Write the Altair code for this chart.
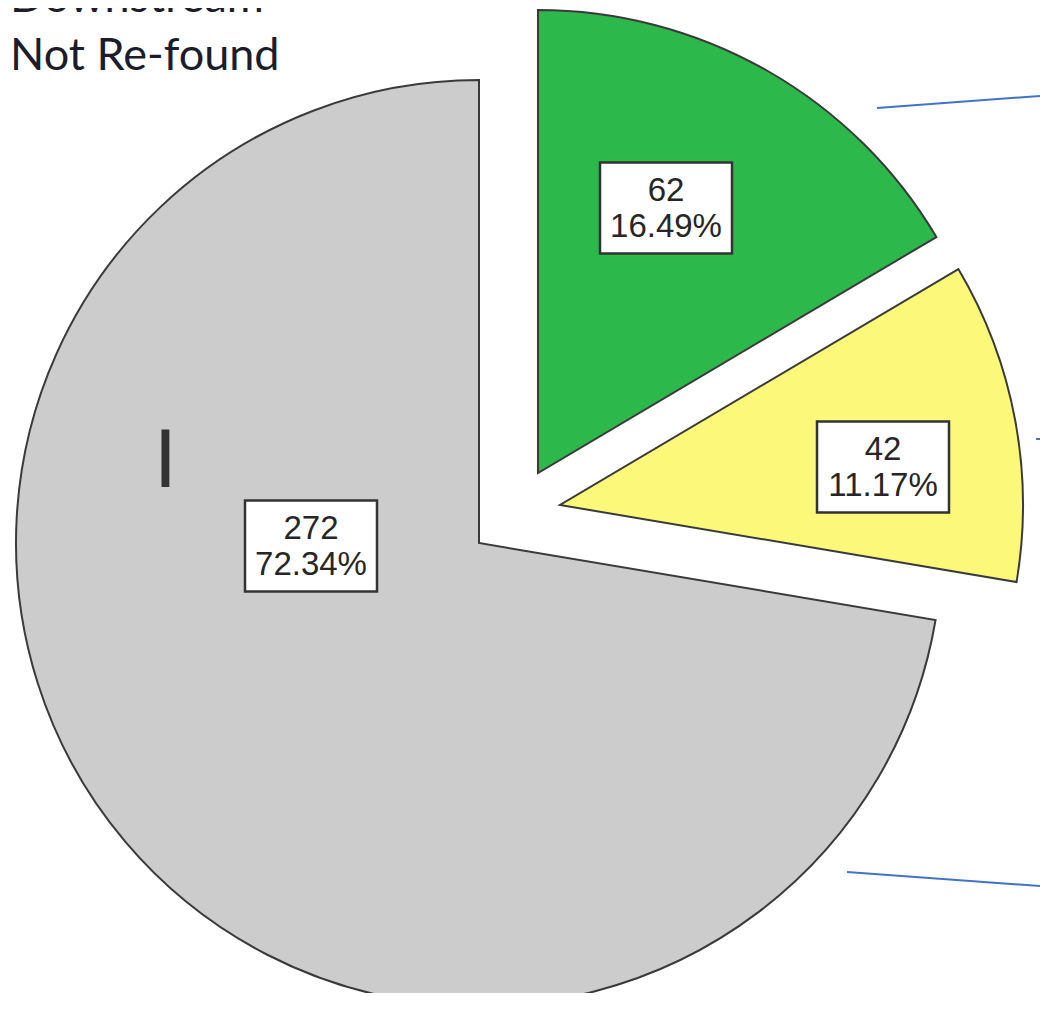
import altair as alt
import pandas as pd

# ---- data ----
categories = ["Upstream", "Downstream", "Not Re-found"]
counts = [62, 42, 272]
colors = ["#2DB84B", "#FBF87A", "#CCCCCC"]

df = pd.DataFrame({"category": categories, "count": counts, "order": list(range(len(categories)))})

# ---- layout (plot-area pixels) ----
R = 463
centers = [(530, 465), (552, 497), (471, 535)]          # exploded slice centres
label_offsets = [(128, -265), (323, -38), (-168, 3)]     # label box centre relative to slice centre
leaders = [((869, 100), (1032, 88)), ((1028, 431), (1032, 431)), ((839, 864), (1032, 878))]
BOX_W, BOX_H = 132, 91
LINE_H = 36

base = (
    alt.Chart(df)
    .transform_joinaggregate(total="sum(count)")
    .transform_window(cum="sum(count)", sort=[alt.SortField("order")], frame=[None, 0])
    .transform_calculate(
        start="(datum.cum - datum.count) / datum.total * 2 * PI",
        end="datum.cum / datum.total * 2 * PI",
        label="datum.count + '\\n' + format(datum.count / datum.total * 100, '.2f') + '%'",
    )
)

color_scale = alt.Scale(domain=categories, range=colors)

layers = []
for i, (cx, cy) in enumerate(centers):
    sl = base.transform_filter(f"datum.order == {i}")
    layers.append(
        sl.mark_arc(radius=R, stroke="#3a3a3a", strokeWidth=2).encode(
            theta=alt.Theta("start:Q", scale=None),
            theta2="end:Q",
            x=alt.value(cx),
            y=alt.value(cy),
            color=alt.Color("category:N", scale=color_scale, legend=None),
        )
    )

for i, (cx, cy) in enumerate(centers):
    sl = base.transform_filter(f"datum.order == {i}")
    lx, ly = cx + label_offsets[i][0], cy + label_offsets[i][1]
    layers.append(
        sl.mark_rect(fill="white", stroke="#333333", strokeWidth=2.5).encode(
            x=alt.value(lx - BOX_W / 2),
            x2=alt.value(lx + BOX_W / 2),
            y=alt.value(ly - BOX_H / 2),
            y2=alt.value(ly + BOX_H / 2),
        )
    )
    layers.append(
        sl.mark_text(
            font="Liberation Sans", fontSize=33, lineBreak="\n", lineHeight=LINE_H,
            baseline="middle", align="center", color="#262626",
        ).encode(x=alt.value(lx), y=alt.value(ly - LINE_H / 2 + 1), text="label:N")
    )
    (x1, y1), (x2, y2) = leaders[i]
    layers.append(
        sl.mark_rule(color="#4472C4", strokeWidth=2).encode(
            x=alt.value(x1), x2=alt.value(x2), y=alt.value(y1), y2=alt.value(y2)
        )
    )

legend = (
    alt.Chart(df)
    .transform_calculate(ly="4 + (datum.order - 1) * 58")
    .mark_text(font="Lato", fontSize=45, align="left", baseline="alphabetic", color="#1c1c2a")
    .encode(x=alt.value(2), y=alt.Y("ly:Q", scale=None), text="category:N")
)
layers.append(legend)

mark_i = (
    alt.Chart(df)
    .transform_filter("datum.order == 2")
    .mark_text(text="I", font="Liberation Sans", fontSize=84, align="center",
               baseline="alphabetic", color="#333333")
    .encode(x=alt.value(157.5), y=alt.value(479))
)
layers.append(mark_i)

chart = (
    alt.layer(*layers)
    .properties(width=1032, height=985, padding=0, autosize="none")
    .configure_view(stroke=None)
)

chart.save("out.html", embed_options={"renderer": "svg", "actions": False})
